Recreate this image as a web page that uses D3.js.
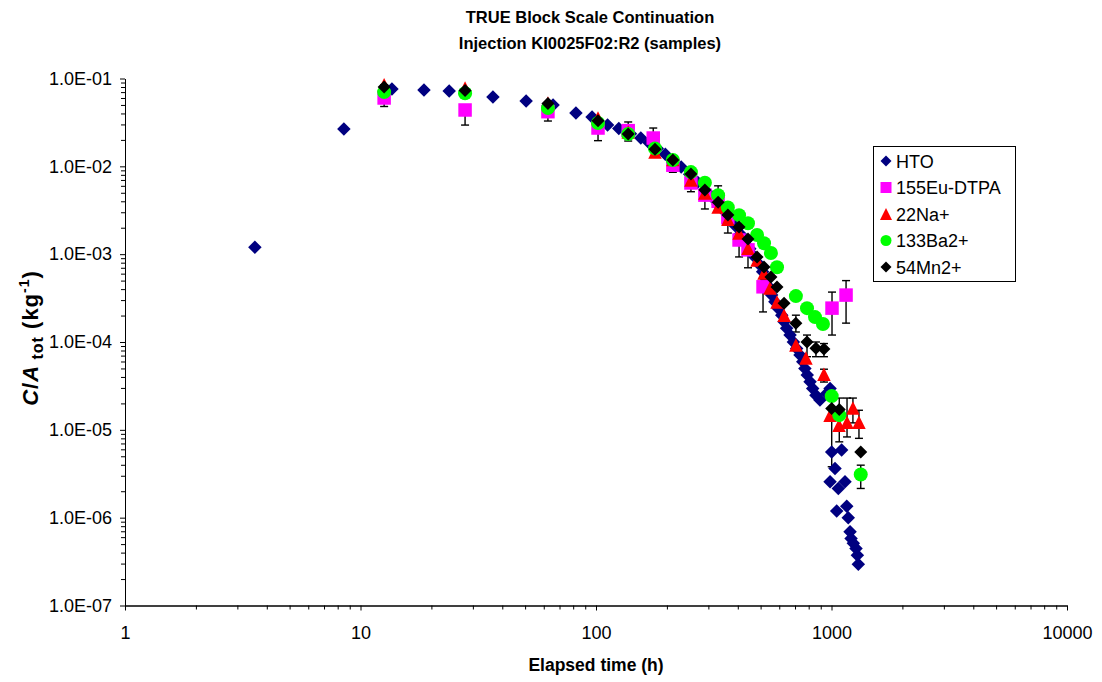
<!DOCTYPE html>
<html lang="en">
<head>
    <meta charset="UTF-8">
    <title>TRUE Block Scale Continuation</title>
    <script src="https://d3js.org/d3.v7.min.js"></script>
    <style>
        body {
            margin: 0;
            background: #fff;
            font-family: Arial, "Liberation Sans", sans-serif;
        }

        .axis path,
        .axis line {
            stroke: #000;
        }

        .axis text {
            font-size: 18px;
            fill: #000;
        }
    </style>
</head>
<body>
    <div id="chart"></div>
    <script>
        // series: [elapsed time (h), C/A tot (kg-1)]
        const hto = [
            [3.56, 1.2e-3], [8.5, 2.66e-2], [13.6, 7.6e-2], [18.6, 7.4e-2], [23.8, 7.2e-2],
            [36.5, 6.15e-2], [50.5, 5.54e-2], [65.7, 4.99e-2], [82.2, 4.05e-2], [96.2, 3.65e-2],
            [112, 2.95e-2], [125, 2.7e-2], [140, 2.35e-2], [155, 2.1e-2], [168, 1.85e-2],
            [182, 1.6e-2], [197, 1.37e-2], [212, 1.17e-2], [230, 9.8e-3], [250, 8.1e-3],
            [270, 6.6e-3], [290, 5.4e-3], [310, 4.5e-3], [330, 3.7e-3], [350, 3.1e-3],
            [370, 2.6e-3], [390, 2.1e-3], [410, 1.7e-3], [430, 1.4e-3], [450, 1.15e-3],
            [470, 9.4e-4], [490, 7.8e-4], [510, 6.3e-4], [530, 5.1e-4], [545, 4.2e-4],
            [557, 3.42e-4], [575, 2.87e-4], [594, 2.41e-4], [615, 2.02e-4], [629, 1.7e-4],
            [645, 1.43e-4], [667, 1.2e-4], [689, 1.0e-4], [711, 8.45e-5], [735, 7.1e-5],
            [755, 5.95e-5], [771, 5.0e-5], [789, 4.2e-5], [811, 3.52e-5], [832, 2.96e-5],
            [859, 2.48e-5], [893, 2.18e-5], [954, 2.6e-5], [986, 2.96e-5], [1002, 5.6e-6],
            [1104, 5.9e-6], [1035, 3.63e-6], [986, 2.56e-6], [1069, 2.15e-6], [1141, 2.56e-6],
            [1052, 1.19e-6], [1161, 1.35e-6], [1178, 1.0e-6], [1199, 6.9e-7], [1211, 5.8e-7],
            [1238, 5.1e-7], [1271, 4.46e-7], [1288, 3.74e-7], [1300, 2.95e-7]
        ];

        const eu155 = [
            [12.6, 6.0e-2], [27.8, 4.38e-2], [62.5, 4.19e-2], [102, 2.73e-2], [137, 2.55e-2],
            [175, 2.1e-2], [212, 1.03e-2], [253, 6.47e-3], [290, 4.7e-3], [330, 4.0e-3],
            [363, 2.6e-3], [405, 1.45e-3], [442, 1.12e-3], [512, 4.25e-4], [1005, 2.43e-4],
            [1153, 3.42e-4]
        ];

        const na22 = [
            [12.6, 8.5e-2], [27.8, 7.8e-2], [62.5, 5.26e-2], [102, 3.55e-2], [137, 2.46e-2],
            [178, 1.46e-2], [212, 1.2e-2], [253, 7.0e-3], [290, 4.97e-3], [330, 3.44e-3],
            [363, 2.5e-3], [405, 1.74e-3], [442, 1.17e-3], [483, 8.57e-4], [517, 6.1e-4],
            [548, 4.11e-4], [587, 2.85e-4], [629, 2.02e-4], [706, 9.22e-5], [779, 6.56e-5],
            [929, 4.3e-5], [986, 1.47e-5], [1076, 1.13e-5], [1164, 1.22e-5], [1233, 1.77e-5],
            [1308, 1.22e-5]
        ];

        const ba133 = [
            [12.6, 7.0e-2], [27.8, 6.8e-2], [62.5, 4.62e-2], [102, 3.11e-2], [137, 2.33e-2],
            [178, 1.6e-2], [212, 1.18e-2], [253, 8.6e-3], [290, 6.5e-3], [330, 4.7e-3],
            [363, 3.4e-3], [405, 2.78e-3], [442, 2.25e-3], [483, 1.65e-3], [517, 1.33e-3],
            [553, 1.03e-3], [587, 7.1e-4], [706, 3.33e-4], [787, 2.43e-4], [851, 1.92e-4],
            [920, 1.6e-4], [1002, 2.42e-5], [1079, 1.47e-5], [1331, 3.1e-6]
        ];

        const mn54 = [
            [12.6, 8.0e-2], [27.8, 7.3e-2], [62.5, 5.2e-2], [102, 3.31e-2], [137, 2.33e-2],
            [178, 1.57e-2], [212, 1.18e-2], [253, 8.17e-3], [290, 5.37e-3], [330, 3.9e-3],
            [363, 2.79e-3], [405, 2.04e-3], [442, 1.49e-3], [483, 9.27e-4], [517, 7.13e-4],
            [553, 5.5e-4], [587, 4.22e-4], [629, 2.77e-4], [706, 1.64e-4], [787, 1.0e-4],
            [859, 8.5e-5], [929, 8.3e-5], [1002, 1.75e-5], [1079, 1.7e-5], [1331, 5.6e-6]
        ];

        // [time, lower, upper]
        const errorBars = [
            [12.6, 4.8e-2, 8.5e-2], [27.8, 2.95e-2, 4.4e-2], [62.5, 3.28e-2, 4.2e-2],
            [102, 1.96e-2, 2.7e-2], [137, 1.94e-2, 3.2e-2], [175, 1.5e-2, 2.73e-2],
            [212, 8.55e-3, 1.03e-2], [253, 5.14e-3, 6.5e-3], [290, 3.27e-3, 4.7e-3],
            [330, 3.0e-3, 6.0e-3], [363, 1.74e-3, 2.6e-3], [405, 9.3e-4, 1.45e-3],
            [442, 7.0e-4, 1.12e-3], [512, 2.2e-4, 4.25e-4], [706, 1.3e-4, 2.02e-4],
            [787, 6.8e-5, 1.2e-4], [859, 6.8e-5, 1.0e-4], [929, 6.8e-5, 9.6e-5],
            [929, 3.5e-5, 4.9e-5], [1005, 1.2e-4, 3.7e-4], [1153, 1.64e-4, 5.0e-4],
            [1002, 3.8e-6, 2.4e-5], [1079, 7.3e-6, 2.3e-5], [1164, 8.3e-6, 2.3e-5],
            [1233, 1.2e-5, 2.3e-5], [1308, 8.0e-6, 1.67e-5], [1331, 2.15e-6, 3.96e-6]
        ];

        const seriesNames = ["HTO", "155Eu-DTPA", "22Na+", "133Ba2+", "54Mn2+"];
        const xTicks = [1, 10, 100, 1000, 10000];
        const yTicks = [1e-7, 1e-6, 1e-5, 1e-4, 1e-3, 1e-2, 1e-1];

        const W = 1102, H = 682;
        const margin = { top: 78.5, right: 35, bottom: 76.5, left: 125 };
        const width = W - margin.left - margin.right;
        const height = H - margin.top - margin.bottom;

        const svg = d3.select("#chart")
            .append("svg")
            .attr("width", W)
            .attr("height", H);

        const g = svg.append("g")
            .attr("transform", `translate(${margin.left}, ${margin.top})`);

        const x = d3.scaleLog().domain([1, 10000]).range([0, width]);
        const y = d3.scaleLog().domain([1e-7, 1e-1]).range([height, 0]);

        const minorOf = majors => majors.slice(0, -1)
            .flatMap(m => d3.range(2, 10).map(k => k * m));

        // minor ticks
        g.append("g")
            .attr("class", "axis")
            .attr("transform", `translate(0, ${height})`)
            .call(d3.axisBottom(x).tickValues(minorOf(xTicks)).tickFormat("").tickSize(4).tickSizeOuter(0));
        g.append("g")
            .attr("class", "axis")
            .call(d3.axisLeft(y).tickValues(minorOf(yTicks)).tickFormat("").tickSize(4).tickSizeOuter(0));

        // major ticks
        g.append("g")
            .attr("class", "axis")
            .attr("transform", `translate(0, ${height})`)
            .call(d3.axisBottom(x).tickValues(xTicks).tickFormat(d3.format("d")).tickSize(5).tickPadding(16).tickSizeOuter(0));

        const yFmt = d => "1.0E-" + String(Math.round(-Math.log10(d))).padStart(2, "0");
        g.append("g")
            .attr("class", "axis")
            .call(d3.axisLeft(y).tickValues(yTicks).tickFormat(yFmt).tickSize(5).tickPadding(8).tickSizeOuter(0));

        // titles
        const title = svg.append("text")
            .attr("text-anchor", "middle")
            .style("font-size", "16.5px")
            .style("font-weight", "bold");
        title.append("tspan").attr("x", 590).attr("y", 23).text("TRUE Block Scale Continuation");
        title.append("tspan").attr("x", 590).attr("y", 49).text("Injection KI0025F02:R2 (samples)");

        svg.append("text")
            .attr("x", margin.left + width / 2)
            .attr("y", 671)
            .attr("text-anchor", "middle")
            .style("font-size", "17.5px")
            .style("font-weight", "bold")
            .text("Elapsed time (h)");

        const yLabel = svg.append("text")
            .attr("transform", `translate(38, 338) rotate(-90)`)
            .attr("text-anchor", "middle")
            .style("font-size", "22px")
            .style("font-weight", "bold")
            .style("letter-spacing", "1px");
        yLabel.append("tspan").style("font-style", "italic").text("C");
        yLabel.append("tspan").text("/");
        yLabel.append("tspan").style("font-style", "italic").text("A");
        yLabel.append("tspan").attr("dy", 5).style("font-size", "16px").text(" tot");
        yLabel.append("tspan").attr("dy", -5).text(" (kg");
        yLabel.append("tspan").attr("dy", -9).style("font-size", "14px").text("-1");
        yLabel.append("tspan").attr("dy", 9).text(")");

        // marker shapes
        const diamond = {
            draw(ctx, size) {
                const r = Math.sqrt(size) / 2;
                ctx.moveTo(0, -r); ctx.lineTo(r, 0); ctx.lineTo(0, r); ctx.lineTo(-r, 0); ctx.closePath();
            }
        };
        const triangle = {
            draw(ctx, size) {
                const r = Math.sqrt(size) / 2;
                ctx.moveTo(0, -r); ctx.lineTo(r, r); ctx.lineTo(-r, r); ctx.closePath();
            }
        };

        const series = [
            { name: seriesNames[0], data: hto, color: "#000080", type: diamond, size: 13.5 * 13.5, legend: 11 * 11 },
            { name: seriesNames[1], data: eu155, color: "#ff00ff", type: d3.symbolSquare, size: 13.5 * 13.5, legend: 11 * 11 },
            { name: seriesNames[2], data: na22, color: "#ff0000", type: triangle, size: 13.5 * 13.5, legend: 12 * 12 },
            { name: seriesNames[3], data: ba133, color: "#00ff00", type: d3.symbolCircle, size: Math.PI * 7 * 7, legend: Math.PI * 5.5 * 5.5 },
            { name: seriesNames[4], data: mn54, color: "#000000", type: diamond, size: 13 * 13, legend: 11 * 11 }
        ];

        // error bars
        const eb = g.append("g").attr("stroke", "#000").attr("stroke-width", 1.4);
        errorBars.forEach(([t, lo, hi]) => {
            const cx = x(t);
            eb.append("line").attr("x1", cx).attr("x2", cx).attr("y1", y(lo)).attr("y2", y(hi));
            eb.append("line").attr("x1", cx - 4).attr("x2", cx + 4).attr("y1", y(lo)).attr("y2", y(lo));
            eb.append("line").attr("x1", cx - 4).attr("x2", cx + 4).attr("y1", y(hi)).attr("y2", y(hi));
        });

        series.forEach(s => {
            g.append("g")
                .selectAll("path")
                .data(s.data)
                .enter()
                .append("path")
                .attr("d", d3.symbol().type(s.type).size(s.size))
                .attr("transform", d => `translate(${x(d[0])}, ${y(d[1])})`)
                .attr("fill", s.color);
        });

        // legend
        const legend = svg.append("g").attr("transform", "translate(873, 146)");
        legend.append("rect")
            .attr("x", 0.5).attr("y", 0.5)
            .attr("width", 142).attr("height", 135)
            .attr("fill", "#fff")
            .attr("stroke", "#000");

        const item = legend.selectAll(".item")
            .data(series)
            .enter()
            .append("g")
            .attr("transform", (d, i) => `translate(0, ${15 + i * 26.5})`);

        item.append("path")
            .attr("d", d => d3.symbol().type(d.type).size(d.legend)())
            .attr("transform", "translate(13, 0)")
            .attr("fill", d => d.color);

        item.append("text")
            .attr("x", 23)
            .attr("y", 6.5)
            .style("font-size", "18px")
            .text(d => d.name);
    </script>
</body>
</html>
